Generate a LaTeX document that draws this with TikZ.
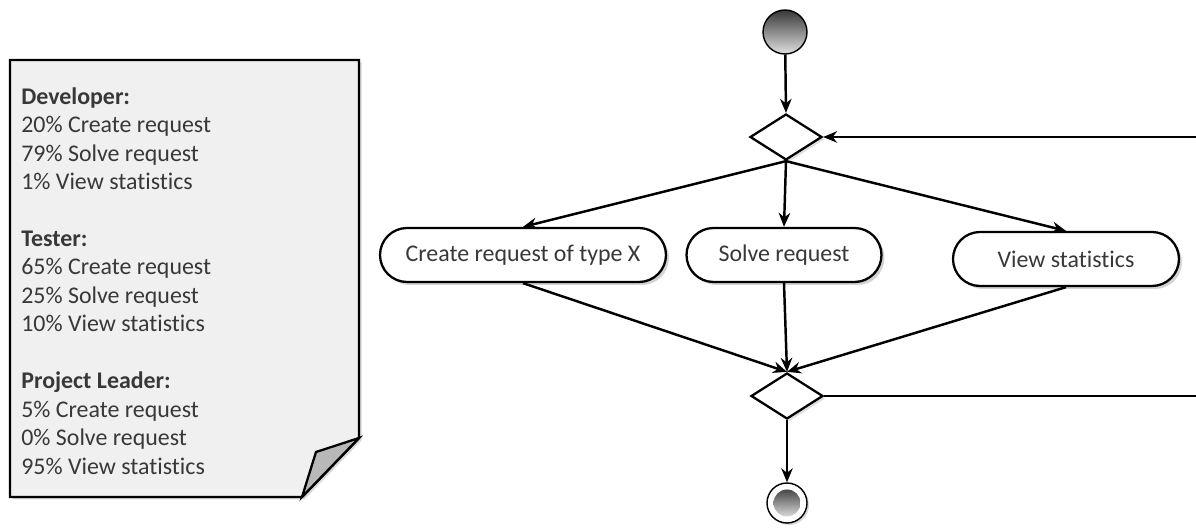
\documentclass[tikz,border=0pt]{standalone}
\usepackage{fontspec}
\setmainfont{Carlito}[Ligatures=NoCommon]
\usetikzlibrary{arrows,arrows.meta,shadows,positioning,shapes.geometric,shapes.misc}

\begin{document}
\begin{tikzpicture}[>={Stealth[length=2.8mm, width=2.3mm]}]

\tikzset{
  label text/.style={text=black!78, font=\fontsize{13.6}{16.2}\selectfont},
  action/.style={label text, draw, line width=1.3pt, fill=white, rounded rectangle,
    minimum height=1.08cm, inner sep=2pt,
    drop shadow={opacity=.35, shadow xshift=.06cm, shadow yshift=-.06cm}},
  decision/.style={draw, line width=1.3pt, fill=white, diamond, inner sep=0pt,
    minimum width=1.44cm, minimum height=0.92cm,
    drop shadow={opacity=.25, shadow xshift=.05cm, shadow yshift=-.05cm}},
  flow/.style={->, line width=1.4pt}
}

\useasboundingbox (0,0) rectangle (23.92,10.62);

% note with the user mix
\draw[line width=1.4pt, fill=black!6, drop shadow={opacity=.3, shadow xshift=.05cm, shadow yshift=-.05cm}]
   (0.2,9.42) -- (7.18,9.42) -- (7.18,1.86) -- (6.04,0.68) -- (0.2,0.68) -- cycle;
\draw[line width=1.3pt, fill=black!28] (7.18,1.86) -- (6.32,1.58) -- (6.04,0.68) -- cycle;
\node[label text, anchor=north west, align=left, inner sep=0pt] (mix) at (0.42,8.88)
{\textbf{Developer:}\\
20\% Create request\\
79\% Solve request\\
1\% View statistics\\[0.57cm]
\textbf{Tester:}\\
65\% Create request\\
25\% Solve request\\
10\% View statistics\\[0.57cm]
\textbf{Project Leader:}\\
5\% Create request\\
0\% Solve request\\
95\% View statistics};

% activity flow
\node[circle, draw, thick, minimum size=0.88cm, top color=black!78, bottom color=black!12]
   (start) at (15.70,9.98) {};
\node[decision] (dtop) at (15.72,7.88) {};
\node[action, minimum width=5.86cm] (create) at (10.46,5.52) {Create request of type X};
\node[action, minimum width=4.04cm] (solve) at (15.68,5.52) {Solve request};
\node[action, minimum width=4.66cm] (view) at (21.32,5.44) {View statistics};
\node[decision] (dlow) at (15.74,2.70) {};
\node[circle, draw, thick, fill=white, minimum size=0.8cm,
   drop shadow={opacity=.3, shadow xshift=.04cm, shadow yshift=-.04cm}] (stop) at (15.74,0.56) {};
\node[circle, minimum size=0.54cm, top color=black!72, bottom color=black!15] (stopdot) at (stop) {};

\coordinate (loopin) at (23.92,7.88);
\coordinate (loopout) at (23.92,2.70);

\draw [flow] (start) -- (dtop.north);
\draw [flow] (dtop.south) -- (create.north);
\draw [flow] (dtop.south) -- (solve.north);
\draw [flow] (dtop.south) -- (view.north);
\draw [flow] (create.south) -- (dlow.north);
\draw [flow] (solve.south) -- (dlow.north);
\draw [flow] (view.south) -- (dlow.north);
\draw [flow] (dlow.south) -- (stop.north);
\draw [line width=1.4pt] (dlow.east) -- (loopout);
\draw [flow] (loopin) -- (dtop.east);

\end{tikzpicture}
\end{document}
